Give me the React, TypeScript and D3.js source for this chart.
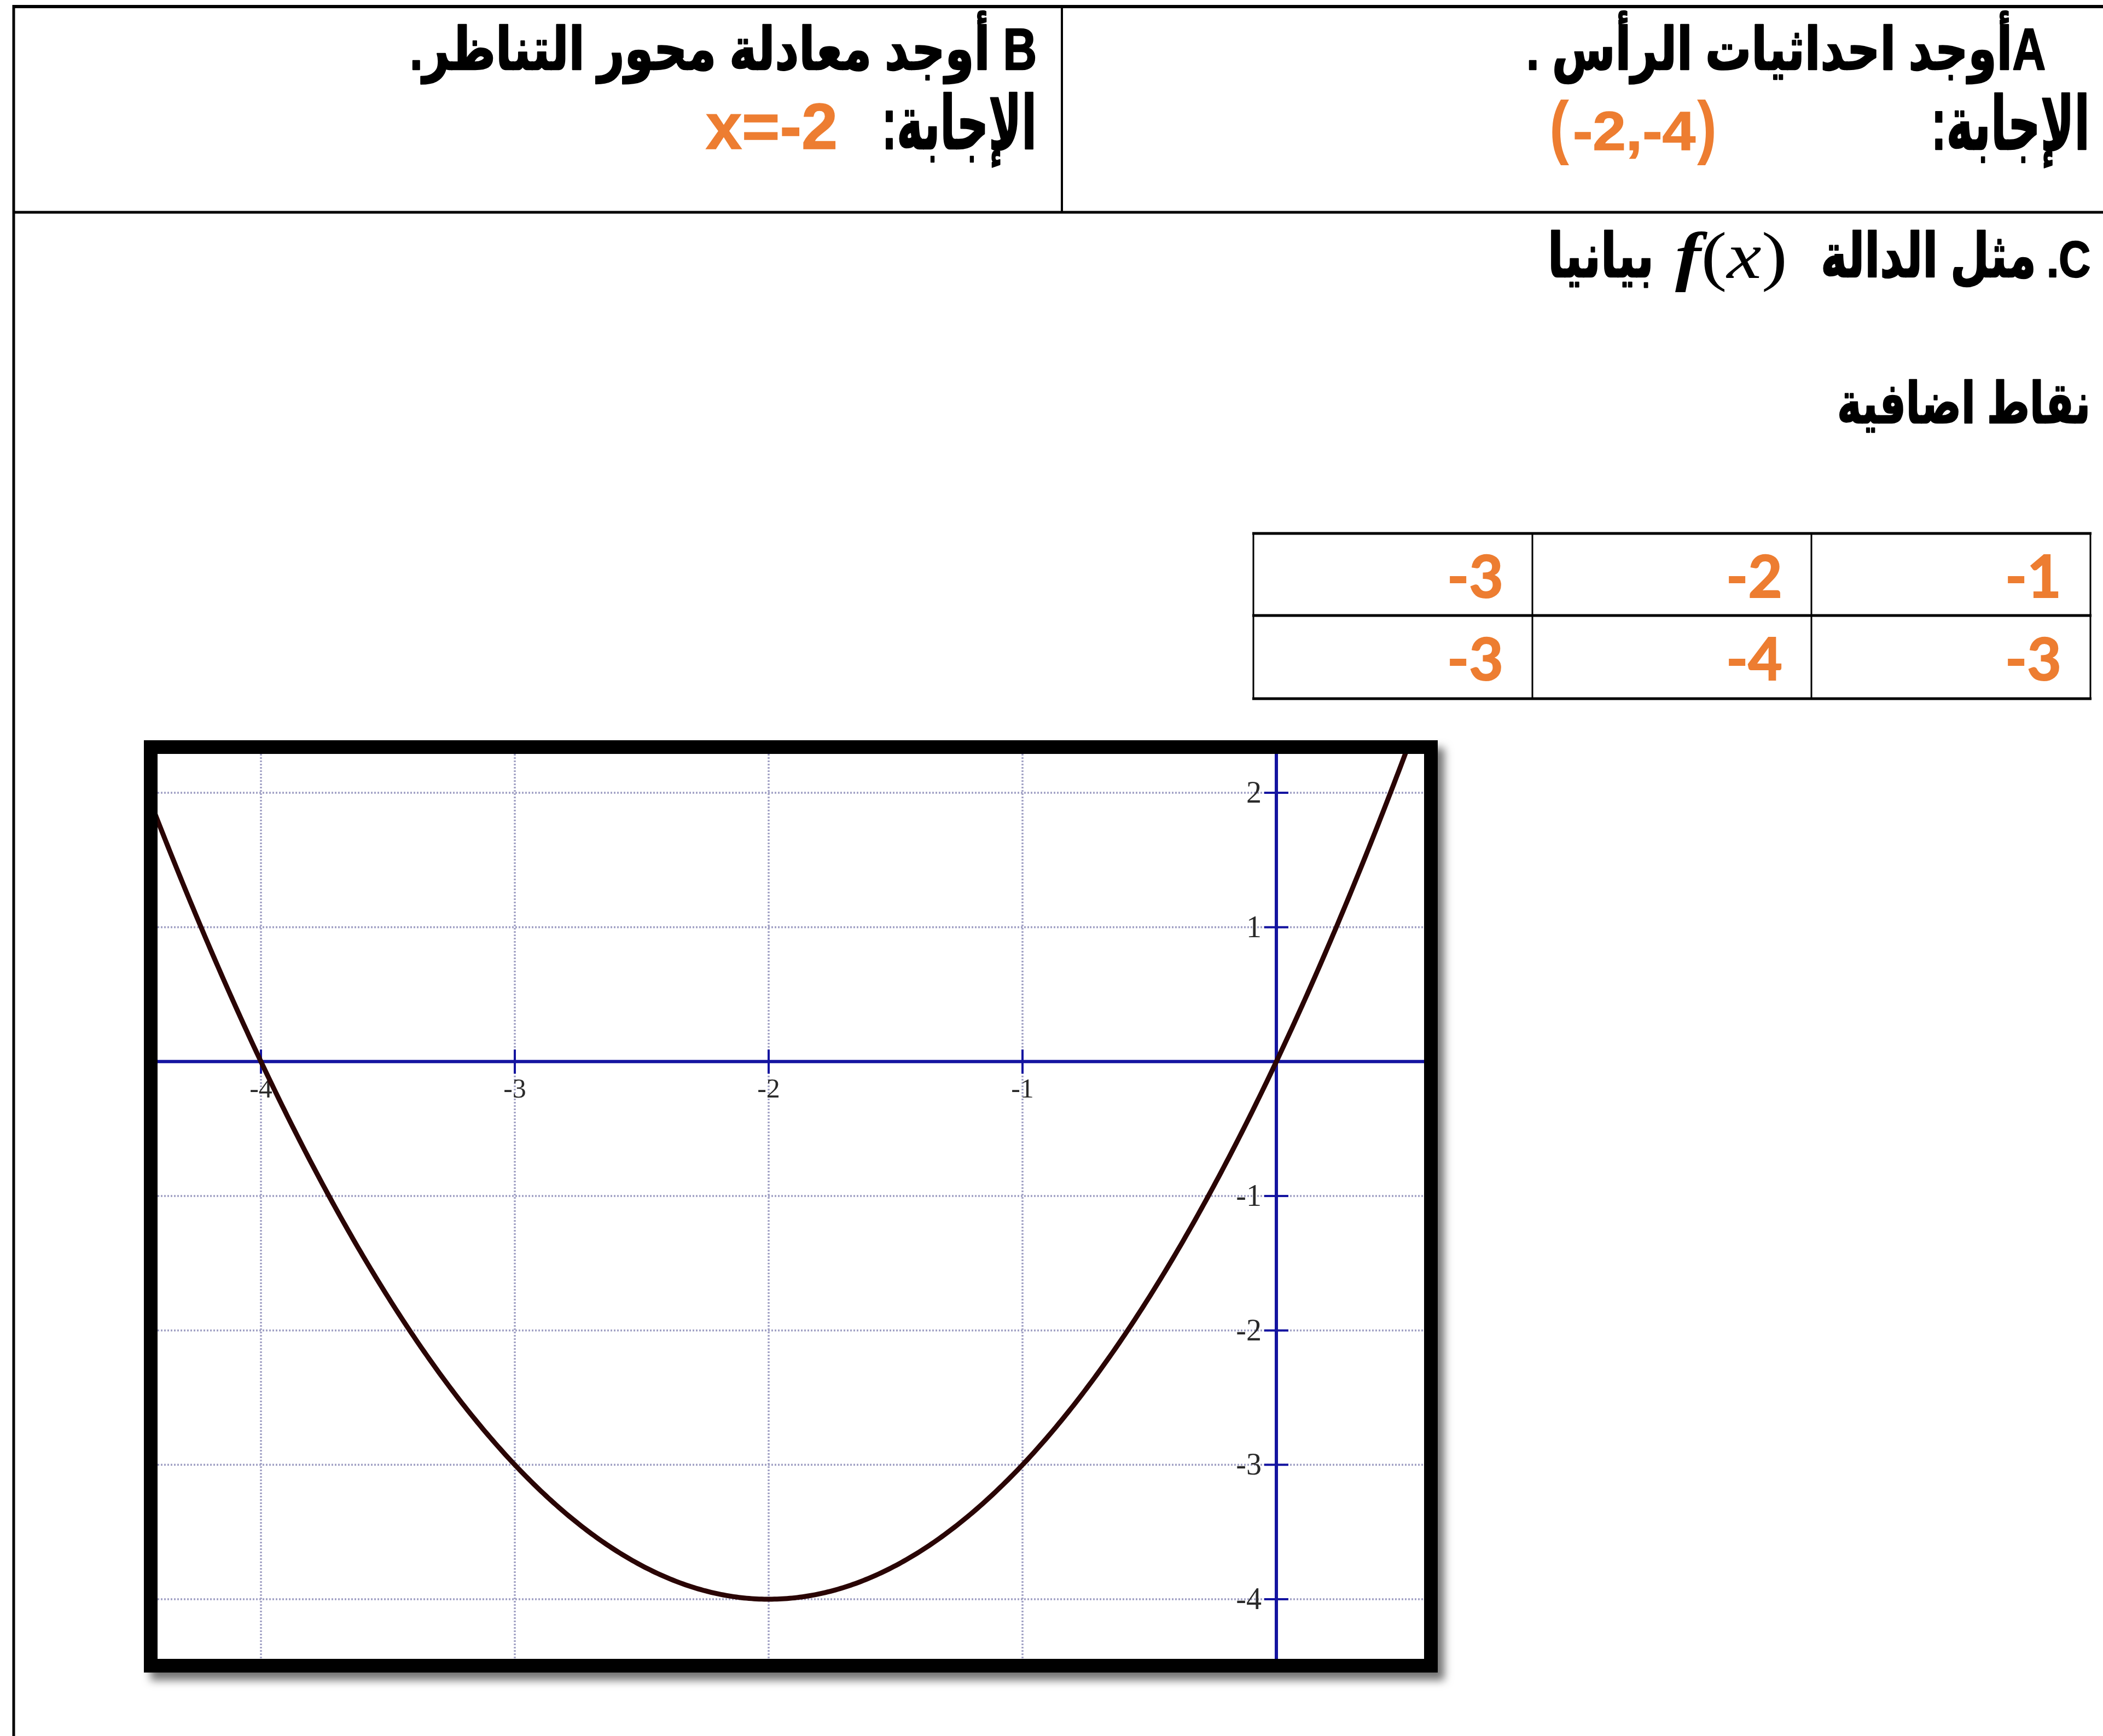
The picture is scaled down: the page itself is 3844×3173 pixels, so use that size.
import React from 'react';
import * as d3 from 'd3';

const W = 3844;
const H = 3173;

// Vertex of f(x) and its axis of symmetry
const vertex: [number, number] = [-2, -4];
const symmetryAxis = -2;
// Extra points table (x row, y row), read right to left
const tableX = [-1, -2, -3];
const tableY = [-3, -4, -3];
// Grid / tick values
const xTicks = [-4, -3, -2, -1];
const yTicks = [2, 1, -1, -2, -3, -4];

const ORANGE = '#ED7D31';
const AR_FONT = "'Liberation Sans', 'DejaVu Sans', sans-serif";
const SANS = "'Liberation Sans', Arial, sans-serif";
const SERIF = "'Liberation Serif', 'DejaVu Serif', serif";
const AXIS_BLUE = '#1414a0';

// Leading coefficient from the vertex and the first table point
const a = (tableY[0] - vertex[1]) / Math.pow(tableX[0] - vertex[0], 2);
const f = (x: number) => a * Math.pow(x - vertex[0], 2) + vertex[1];

type TxtProps = {
  x: number; y: number; size: number; len?: number; fill?: string;
  family?: string; weight?: string; children: React.ReactNode;
};

// Right-to-left heading text, squeezed to the given width
const Rtl = ({ x, y, size, len, fill = '#000', family = AR_FONT, weight = 'bold', children }: TxtProps) => (
  <text
    x={x}
    y={y}
    direction="rtl"
    style={{ direction: 'rtl', unicodeBidi: 'embed' }}
    textAnchor="start"
    fontFamily={family}
    fontSize={size}
    fontWeight={weight}
    fill={fill}
    stroke={fill}
    strokeWidth={2.5}
    strokeLinejoin="round"
    textLength={len}
    lengthAdjust="spacingAndGlyphs"
  >
    {children}
  </text>
);

export default function App() {
  // plot frame
  const outer = { x0: 263, y0: 1353, x1: 2628, y1: 3057 };
  const bw = 25;
  const inner = { x0: outer.x0 + bw, y0: outer.y0 + bw, x1: outer.x1 - bw, y1: outer.y1 - bw };

  const x = d3.scaleLinear().domain([-4, 0]).range([477, 2333]);
  const y = d3.scaleLinear().domain([2, -4]).range([1449, 2923]);

  const xs = d3.range(x.invert(inner.x0) - 0.05, x.invert(inner.x1) + 0.05, 0.01);
  const line = d3
    .line<number>()
    .x((d) => x(d))
    .y((d) => y(f(d)))
    .curve(d3.curveLinear);

  // table
  const col = d3.scaleBand<number>().domain([0, 1, 2]).range([3821, 2291]);
  const rowY = [975, 1125, 1277];

  return (
    <svg
      width={W}
      height={H}
      viewBox={`0 0 ${W} ${H}`}
      style={{ position: 'absolute', left: 0, top: 0, display: 'block', background: '#fff' }}
    >
      <defs>
        <filter id="frameShadow" x="-5%" y="-5%" width="115%" height="115%">
          <feDropShadow dx="12" dy="14" stdDeviation="8" floodColor="#000" floodOpacity="0.55" />
        </filter>
        <clipPath id="plotClip">
          <rect x={inner.x0} y={inner.y0} width={inner.x1 - inner.x0} height={inner.y1 - inner.y0} />
        </clipPath>
      </defs>
      <rect x={0} y={0} width={W} height={H} fill="#fff" />

      {/* page borders */}
      <line x1={25} y1={12} x2={W} y2={12} stroke="#000" strokeWidth={6} />
      <line x1={25} y1={388} x2={W} y2={388} stroke="#000" strokeWidth={5} />
      <line x1={25} y1={9} x2={25} y2={H} stroke="#000" strokeWidth={5} />
      <line x1={1941} y1={12} x2={1941} y2={388} stroke="#000" strokeWidth={4} />

      {/* A: vertex */}
      <Rtl x={3739} y={127} size={108} len={949}>Aأوجد احداثيات الرأس .</Rtl>
      <Rtl x={3820} y={273} size={136} len={290}>الإجابة:</Rtl>
      <text x={2832} y={275} fontFamily={SANS} fontSize={128} fontWeight="bold" fill={ORANGE}
        textLength={36} lengthAdjust="spacingAndGlyphs">(</text>
      <text x={2875} y={274} fontFamily={SANS} fontSize={100} fontWeight="bold" fill={ORANGE}
        stroke={ORANGE} strokeWidth={1.5} textLength={224} lengthAdjust="spacingAndGlyphs">
        {`${vertex[0]},${vertex[1]}`}
      </text>
      <text x={3102} y={275} fontFamily={SANS} fontSize={128} fontWeight="bold" fill={ORANGE}
        textLength={36} lengthAdjust="spacingAndGlyphs">)</text>

      {/* B: axis of symmetry */}
      <Rtl x={1895} y={127} size={108} len={1146}>B أوجد معادلة محور التناظر.</Rtl>
      <Rtl x={1895} y={272} size={136} len={283}>الإجابة:</Rtl>
      <text x={1290} y={272} fontFamily={SANS} fontSize={118} fontWeight="bold" fill={ORANGE}
        stroke={ORANGE} strokeWidth={1.5} textLength={241} lengthAdjust="spacingAndGlyphs">
        {`x=${symmetryAxis}`}
      </text>

      {/* C: graph the function */}
      <Rtl x={3821} y={506} size={92} len={80}>C.</Rtl>
      <Rtl x={3722} y={506} size={112} len={394}>مثل الدالة</Rtl>
      <text x={3062} y={508} fontFamily={SERIF} fontSize={120} fill="#000"
        textLength={205} lengthAdjust="spacingAndGlyphs">
        <tspan fontStyle="italic" fontWeight="bold">f</tspan>
        <tspan>(</tspan>
        <tspan fontStyle="italic">x</tspan>
        <tspan>)</tspan>
      </text>
      <Rtl x={3023} y={506} size={112} len={194}>بيانيا</Rtl>
      <Rtl x={3821} y={773} size={104} len={463}>نقاط اضافية</Rtl>

      {/* extra points table */}
      <g>
        {rowY.map((ry, i) => (
          <line key={`h${i}`} x1={2289} x2={3823} y1={ry} y2={ry} stroke="#000" strokeWidth={5} />
        ))}
        {[...col.domain().map((c) => col(c)! + col.bandwidth()), 2291].map((vx, i) => (
          <line key={`v${i}`} x1={vx} x2={vx} y1={rowY[0]} y2={rowY[2]} stroke="#000" strokeWidth={3} />
        ))}
        {tableX.map((v, i) => (
          <text key={`tx${i}`} x={col(i)! + col.bandwidth() - 53} y={1092} textAnchor="end"
            fontFamily="Lato, 'Open Sans', sans-serif" fontWeight="bold" fontSize={108} fill={ORANGE}
            stroke={ORANGE} strokeWidth={2}>
            {v}
          </text>
        ))}
        {tableY.map((v, i) => (
          <text key={`ty${i}`} x={col(i)! + col.bandwidth() - 53} y={1243} textAnchor="end"
            fontFamily="Lato, 'Open Sans', sans-serif" fontWeight="bold" fontSize={108} fill={ORANGE}
            stroke={ORANGE} strokeWidth={2}>
            {v}
          </text>
        ))}
      </g>

      {/* plot frame with shadow */}
      <rect x={outer.x0} y={outer.y0} width={outer.x1 - outer.x0} height={outer.y1 - outer.y0} fill="#000" filter="url(#frameShadow)" />
      <rect x={inner.x0} y={inner.y0} width={inner.x1 - inner.x0} height={inner.y1 - inner.y0} fill="#fff" />

      <g clipPath="url(#plotClip)">
        {/* dotted grid */}
        {xTicks.map((t) => (
          <line key={`gx${t}`} x1={x(t)} x2={x(t)} y1={inner.y0} y2={inner.y1} stroke="#a0a0c4" strokeWidth={3.5} strokeDasharray="3 3" />
        ))}
        {yTicks.map((t) => (
          <line key={`gy${t}`} x1={inner.x0} x2={inner.x1} y1={y(t)} y2={y(t)} stroke="#a0a0c4" strokeWidth={3.5} strokeDasharray="3 3" />
        ))}

        {/* axes */}
        <line x1={inner.x0} x2={inner.x1} y1={y(0)} y2={y(0)} stroke={AXIS_BLUE} strokeWidth={6} />
        <line x1={x(0)} x2={x(0)} y1={inner.y0} y2={inner.y1} stroke={AXIS_BLUE} strokeWidth={6} />
        {xTicks.map((t) => (
          <line key={`tx${t}`} x1={x(t)} x2={x(t)} y1={y(0) - 22} y2={y(0) + 22} stroke={AXIS_BLUE} strokeWidth={4} />
        ))}
        {yTicks.map((t) => (
          <line key={`ty${t}`} x1={x(0) - 22} x2={x(0) + 22} y1={y(t)} y2={y(t)} stroke={AXIS_BLUE} strokeWidth={4} />
        ))}

        {/* tick labels */}
        {xTicks.map((t) => (
          <text key={`lx${t}`} x={x(t)} y={y(0) + 66} textAnchor="middle"
            fontFamily={SERIF} fontSize={50} fill="#2a2a2a">
            {t}
          </text>
        ))}
        {yTicks.map((t) => (
          <text key={`ly${t}`} x={x(0) - 27} y={y(t) + 18} textAnchor="end"
            fontFamily={SERIF} fontSize={56} fill="#2a2a2a">
            {t}
          </text>
        ))}

        {/* the parabola */}
        <path d={line(xs) ?? ''} fill="none" stroke="#2a0505" strokeWidth={9} strokeLinejoin="round" />
      </g>
    </svg>
  );
}
